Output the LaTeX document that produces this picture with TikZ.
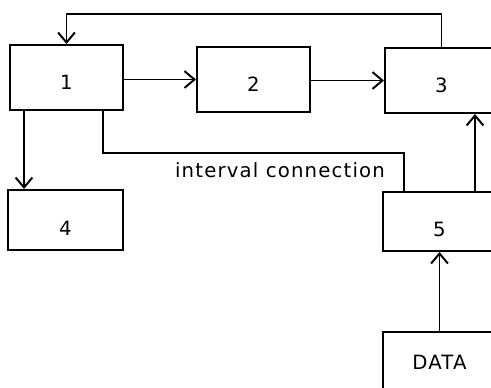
\documentclass[tikz,border=0pt]{standalone}
\usepackage{fontspec}
\setmainfont{DejaVu Sans}
\newfontfamily\plotfont[LetterSpace=6]{DejaVu Sans}
\usetikzlibrary{calc,arrows.meta}

\begin{document}
\begin{tikzpicture}[x=0.25mm, y=-0.25mm, >={Straight Barb[length=2.5mm,width=4.2mm]},
    blk/.style={draw, line width=1.4pt, minimum width=28.25mm, minimum height=16.25mm,
      inner sep=0pt, text height=16.5pt, text depth=0pt, font=\plotfont\fontsize{14}{16}\selectfont},
    wire/.style={line width=1.4pt}]
    \clip (0,0) rectangle (491,387);

    % Top row
    \node[blk] (b1) at (66.5,77.5) {1};
    \node[blk] (b2) at (253.5,79.5) {2};
    \node[blk] (b3) at (441.5,80.5) {3};

    % Lower blocks
    \node[blk, minimum width=28.75mm, minimum height=15mm, text height=21.5pt] (b4) at (65.5,220) {4};
    \node[blk, minimum height=14.75mm, text height=21.5pt] (b5) at (439.5,221.5) {5};
    \node[blk, minimum height=15mm, text height=10.2pt] (data) at (439.5,362) {DATA};

    % Forward arrows
    \draw[wire, ->] (b2.west -| b1.east) -- (b2.west);
    \draw[wire, ->] (b3.west -| b2.east) -- (b3.west);

    % Feedback 3 -> 1
    \coordinate (top) at (0,14);
    \draw[wire, ->] (b3.north) -- (b3.north |- top) -| (b1.north);

    % 1 -> 4
    \coordinate (d4) at ($(b1.south west)+(15,0)$);
    \draw[wire, ->] (d4) -- (d4 |- b4.north);

    % Interval connection 1 -- 5
    \coordinate (ic1) at ($(b1.south west)+(94,0)$);
    \coordinate (ic2) at ($(b5.north west)+(22,0)$);
    \draw[wire] (ic1) |- ($(ic2)+(0,-38)$) -- (ic2);
    \node[font=\plotfont\fontsize{14}{16}\selectfont] (iclabel) at (280,170) {interval connection};

    % 5 -> 3
    \coordinate (up3) at ($(b5.north west)+(93,0)$);
    \draw[wire, ->] (up3) -- (up3 |- b3.south);

    % DATA -> 5
    \draw[wire, ->] (data.north) -- (data.north |- b5.south);
\end{tikzpicture}
\end{document}
